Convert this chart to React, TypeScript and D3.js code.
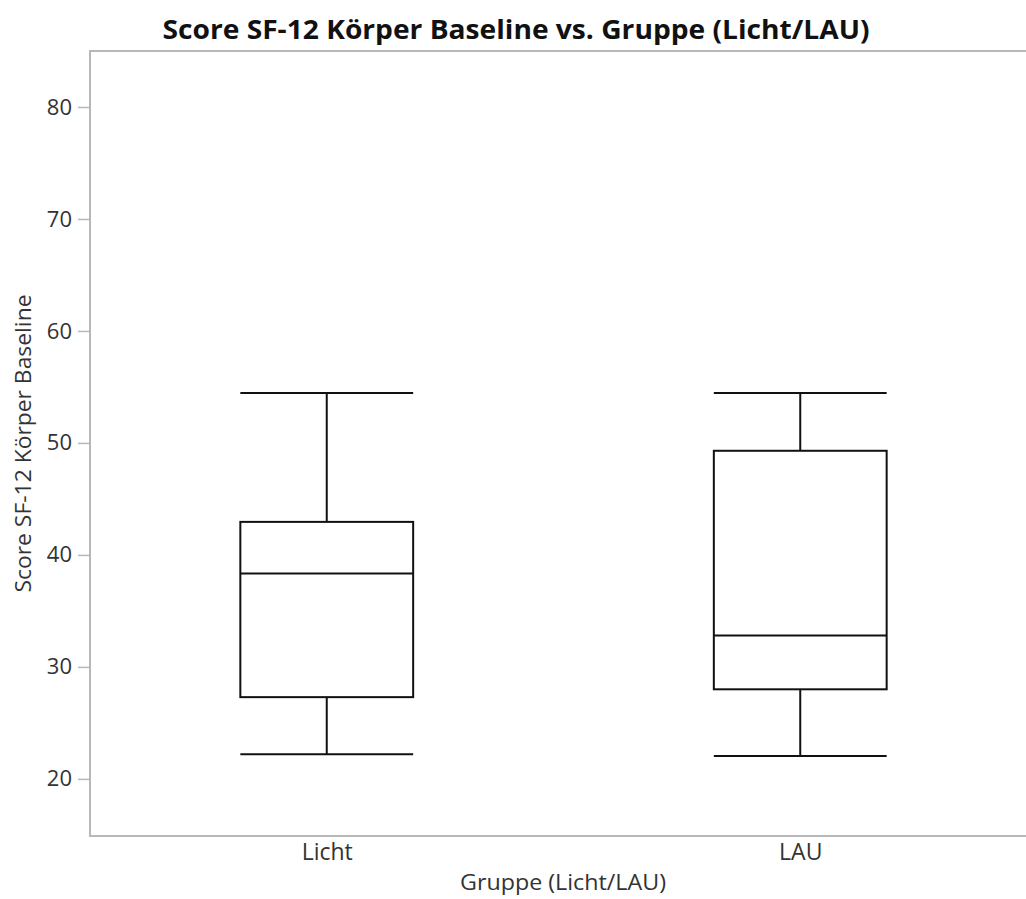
import React, { useEffect, useRef } from "react";
import * as d3 from "d3";

const title = "Score SF-12 Körper Baseline vs. Gruppe (Licht/LAU)";
const xLabel = "Gruppe (Licht/LAU)";
const yLabel = "Score SF-12 Körper Baseline";

const groups = ["Licht", "LAU"];
const whiskerLow = [22.2, 22.05];
const q1 = [27.3, 28.0];
const median = [38.35, 32.8];
const q3 = [42.95, 49.3];
const whiskerHigh = [54.45, 54.45];
const yTicks = [20, 30, 40, 50, 60, 70, 80];

const W = 1026;
const H = 899;

const App = () => {
  const ref = useRef<SVGSVGElement | null>(null);

  useEffect(() => {
    document.documentElement.style.overflow = "hidden";
    document.body.style.margin = "0";

    const svg = d3.select(ref.current);
    svg.selectAll("*").remove();

    const left = 90;
    const right = 1037; // plot runs past the right edge of the image
    const top = 51;
    const bottom = 836;
    const font = "'Segoe UI', 'Open Sans', 'Noto Sans', sans-serif";
    const frame = "#b8b8b8";

    const x = d3.scalePoint<string>().domain(groups).range([left, right]).padding(0.5);
    const y = d3.scaleLinear().domain([14.9, 85]).range([bottom, top]);
    const boxW = x.step() * 0.365;

    // frame: left, top, bottom only (right side is cut off)
    const fg = svg.append("g").attr("stroke", frame).attr("stroke-width", 2);
    fg.append("line").attr("x1", left).attr("x2", W + 5).attr("y1", top).attr("y2", top);
    fg.append("line").attr("x1", left).attr("x2", W + 5).attr("y1", bottom).attr("y2", bottom);
    fg.append("line").attr("x1", left).attr("x2", left).attr("y1", top - 1).attr("y2", bottom + 1);

    // y axis
    const yAxis = svg
      .append("g")
      .attr("transform", `translate(${left - 1},0)`)
      .call(d3.axisLeft(y).tickValues(yTicks).tickSize(11).tickPadding(6).tickFormat(d3.format("d")));
    yAxis.select(".domain").remove();
    yAxis.selectAll(".tick line").attr("stroke", frame).attr("stroke-width", 1.5);
    yAxis
      .selectAll(".tick text")
      .attr("fill", "#333")
      .style("font-family", font)
      .style("font-size", "22px");

    // x axis labels
    const xAxis = svg
      .append("g")
      .attr("transform", `translate(0,${bottom})`)
      .call(d3.axisBottom(x).tickSize(0).tickPadding(8));
    xAxis.select(".domain").remove();
    xAxis
      .selectAll(".tick text")
      .attr("fill", "#333")
      .style("font-family", font)
      .style("font-size", "23px");

    // boxes
    const data = groups.map((g, i) => ({
      g,
      lo: whiskerLow[i],
      q1: q1[i],
      med: median[i],
      q3: q3[i],
      hi: whiskerHigh[i],
    }));

    const box = svg
      .selectAll("g.box")
      .data(data)
      .enter()
      .append("g")
      .attr("class", "box")
      .attr("stroke", "#111")
      .attr("stroke-width", 2)
      .attr("fill", "none");

    box
      .append("line")
      .attr("x1", (d) => x(d.g)!)
      .attr("x2", (d) => x(d.g)!)
      .attr("y1", (d) => y(d.hi))
      .attr("y2", (d) => y(d.q3));
    box
      .append("line")
      .attr("x1", (d) => x(d.g)!)
      .attr("x2", (d) => x(d.g)!)
      .attr("y1", (d) => y(d.q1))
      .attr("y2", (d) => y(d.lo));
    box
      .append("rect")
      .attr("x", (d) => x(d.g)! - boxW / 2)
      .attr("y", (d) => y(d.q3))
      .attr("width", boxW)
      .attr("height", (d) => y(d.q1) - y(d.q3));
    ["hi", "lo", "med"].forEach((k) => {
      box
        .append("line")
        .attr("x1", (d) => x(d.g)! - boxW / 2)
        .attr("x2", (d) => x(d.g)! + boxW / 2)
        .attr("y1", (d: any) => y(d[k]))
        .attr("y2", (d: any) => y(d[k]));
    });

    // title
    svg
      .append("text")
      .attr("x", 516)
      .attr("y", 39)
      .attr("text-anchor", "middle")
      .attr("textLength", 707)
      .attr("lengthAdjust", "spacingAndGlyphs")
      .style("font-family", font)
      .style("font-size", "27px")
      .style("font-weight", "bold")
      .attr("fill", "#111")
      .text(title);

    // axis titles
    svg
      .append("text")
      .attr("x", 563)
      .attr("y", 890)
      .attr("text-anchor", "middle")
      .attr("textLength", 206)
      .attr("lengthAdjust", "spacingAndGlyphs")
      .style("font-family", font)
      .style("font-size", "22px")
      .attr("fill", "#333")
      .text(xLabel);

    svg
      .append("text")
      .attr("transform", `translate(31,${(top + bottom) / 2}) rotate(-90)`)
      .attr("text-anchor", "middle")
      .attr("textLength", 298)
      .attr("lengthAdjust", "spacingAndGlyphs")
      .style("font-family", font)
      .style("font-size", "22px")
      .attr("fill", "#333")
      .text(yLabel);
  }, []);

  return (
    <svg
      ref={ref}
      width={W}
      height={H}
      style={{ display: "block", position: "absolute", left: 0, top: 0, background: "#fff" }}
    />
  );
};

export default App;
